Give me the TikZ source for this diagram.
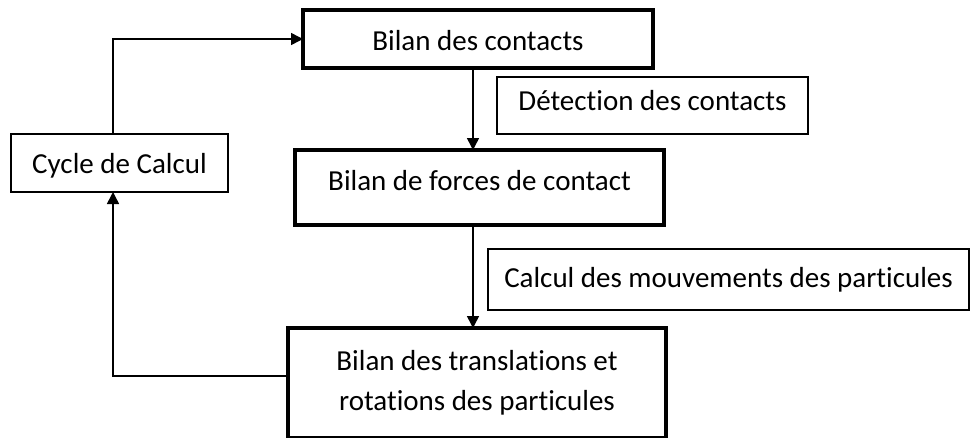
\documentclass[tikz,border=0pt]{standalone}
\usepackage{fontspec}
\setmainfont{Carlito}[Ligatures=NoCommon]
\usetikzlibrary{arrows.meta}
\begin{document}
\begin{tikzpicture}[x=1pt,y=-1pt,
  every node/.style={font=\fontsize{29}{40}\selectfont, inner sep=0pt, outer sep=0pt},
  mainbox/.style={draw, line width=4pt, rectangle, align=center},
  sidebox/.style={draw, line width=1.3pt, rectangle, align=center},
  arr/.style={line width=1.5pt, -{Triangle[length=12pt,width=12pt]}}]
\useasboundingbox (0,0) rectangle (971,437);
\clip (0,0) rectangle (971,437);
\node[mainbox, minimum width=350pt, minimum height=58pt, text height=22pt, text depth=0pt] (b1) at (478,39) {Bilan des contacts};
\node[mainbox, minimum width=369pt, minimum height=75pt, text height=20pt, text depth=15pt] (b2) at (479.5,187.5) {Bilan de forces de contact};
\node[mainbox, minimum width=378pt, minimum height=110pt] (b3) at (477,383) {Bilan des translations et\\rotations des particules};
\node[sidebox, minimum width=311pt, minimum height=57pt, text height=20pt, text depth=11pt] (det) at (652.5,105.5) {Détection des contacts};
\node[sidebox, minimum width=481pt, minimum height=61pt, text height=20pt, text depth=5pt] (calc) at (728.5,279.5) {Calcul des mouvements des particules};
\node[sidebox, minimum width=217pt, minimum height=58pt, text height=20pt, text depth=0pt] (cyc) at (119.5,163) {Cycle de Calcul};
\draw[arr] ([xshift=-6.5pt]cyc.north) |- (b1.west);
\draw[arr] ([xshift=-5pt]b1.south) -- ([xshift=-5pt]b1.south |- b2.north);
\draw[arr] ([xshift=-6.5pt]b2.south) -- ([xshift=-6.5pt]b2.south |- b3.north);
\draw[arr] ([yshift=7pt]b3.west) -| ([xshift=-6.5pt]cyc.south);
\end{tikzpicture}
\end{document}
